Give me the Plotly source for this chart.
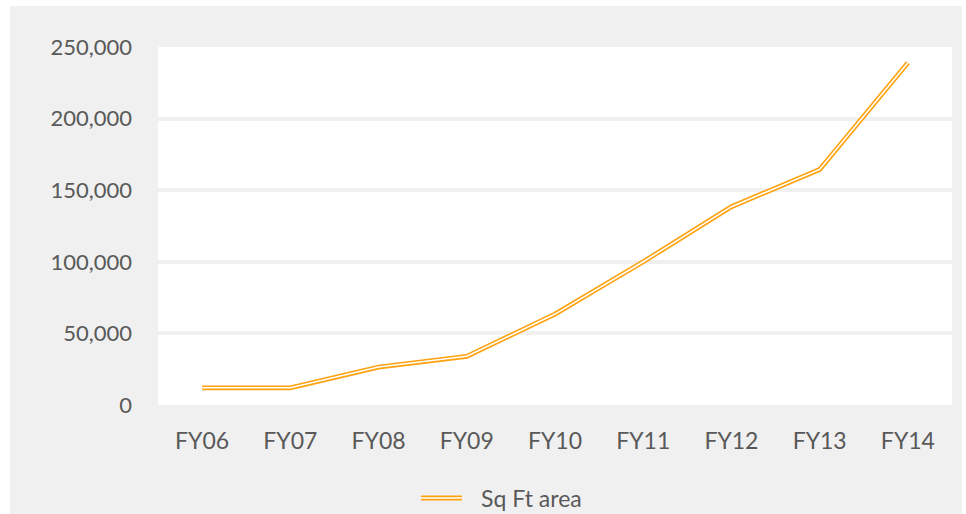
import plotly.graph_objects as go

# Retail floor space by fiscal year
years = ["FY06", "FY07", "FY08", "FY09", "FY10", "FY11", "FY12", "FY13", "FY14"]
sq_ft_area = [12000, 12000, 26500, 34000, 63500, 100000, 138500, 164500, 239000]
series_name = "Sq Ft area"
y_ticks = [0, 50000, 100000, 150000, 200000, 250000]

ORANGE = "#FFA20F"
GREY_BG = "#F0F0F0"
TEXT = "#595959"
FONT = "Lato"

W, H = 966, 514
ML, MR, MT, MB = 158, 14, 47, 109
PW, PH = W - ML - MR, H - MT - MB


def px_x(p):
    return (p - ML) / PW


def px_y(p):
    return (H - MB - p) / PH


fig = go.Figure()

# compound line: wide orange stroke with a thin white core
fig.add_trace(go.Scatter(
    x=years, y=sq_ft_area, mode="lines", name=series_name,
    line=dict(color=ORANGE, width=4.8), showlegend=False, hoverinfo="skip",
))
fig.add_trace(go.Scatter(
    x=years, y=sq_ft_area, mode="lines", name=series_name,
    line=dict(color="white", width=1.6), showlegend=False,
))

shapes = [
    # white page margins around the grey chart frame
    dict(type="rect", xref="paper", yref="paper", x0=px_x(-5), x1=px_x(10),
         y0=px_y(H + 5), y1=px_y(-5), fillcolor="white", line_width=0, layer="below"),
    dict(type="rect", xref="paper", yref="paper", x0=px_x(-5), x1=px_x(W + 5),
         y0=px_y(6), y1=px_y(-5), fillcolor="white", line_width=0, layer="below"),
    dict(type="rect", xref="paper", yref="paper", x0=px_x(962), x1=px_x(W + 5),
         y0=px_y(H + 5), y1=px_y(-5), fillcolor="white", line_width=0, layer="below"),
    # legend swatch (double line)
    dict(type="line", xref="paper", yref="paper", x0=px_x(421), x1=px_x(462),
         y0=px_y(498), y1=px_y(498), line=dict(color=ORANGE, width=4.8)),
    dict(type="line", xref="paper", yref="paper", x0=px_x(421), x1=px_x(462),
         y0=px_y(498), y1=px_y(498), line=dict(color="white", width=1.6)),
]

annotations = [
    dict(text=series_name, xref="paper", yref="paper", x=px_x(479), y=px_y(498),
         xanchor="left", yanchor="middle", showarrow=False,
         font=dict(family=FONT, size=23, color=TEXT)),
]

fig.update_layout(
    width=W, height=H,
    margin=dict(l=ML, r=MR, t=MT, b=MB, pad=0),
    paper_bgcolor=GREY_BG, plot_bgcolor="white",
    font=dict(family=FONT, size=23, color=TEXT),
    shapes=shapes, annotations=annotations,
    showlegend=False,
)
fig.update_xaxes(
    type="category", range=[-0.5, len(years) - 0.5],
    showgrid=False, zeroline=False, showline=False, ticks="",
    ticklabelstandoff=20, tickfont=dict(family=FONT, size=23, color=TEXT),
)
fig.update_yaxes(
    range=[0, 250000], tickvals=y_ticks, tickformat=",",
    showgrid=True, gridcolor=GREY_BG, gridwidth=4,
    zeroline=False, showline=False, ticks="",
    ticklabelstandoff=25, tickfont=dict(family=FONT, size=22, color=TEXT),
)

fig.write_html("out.html")
